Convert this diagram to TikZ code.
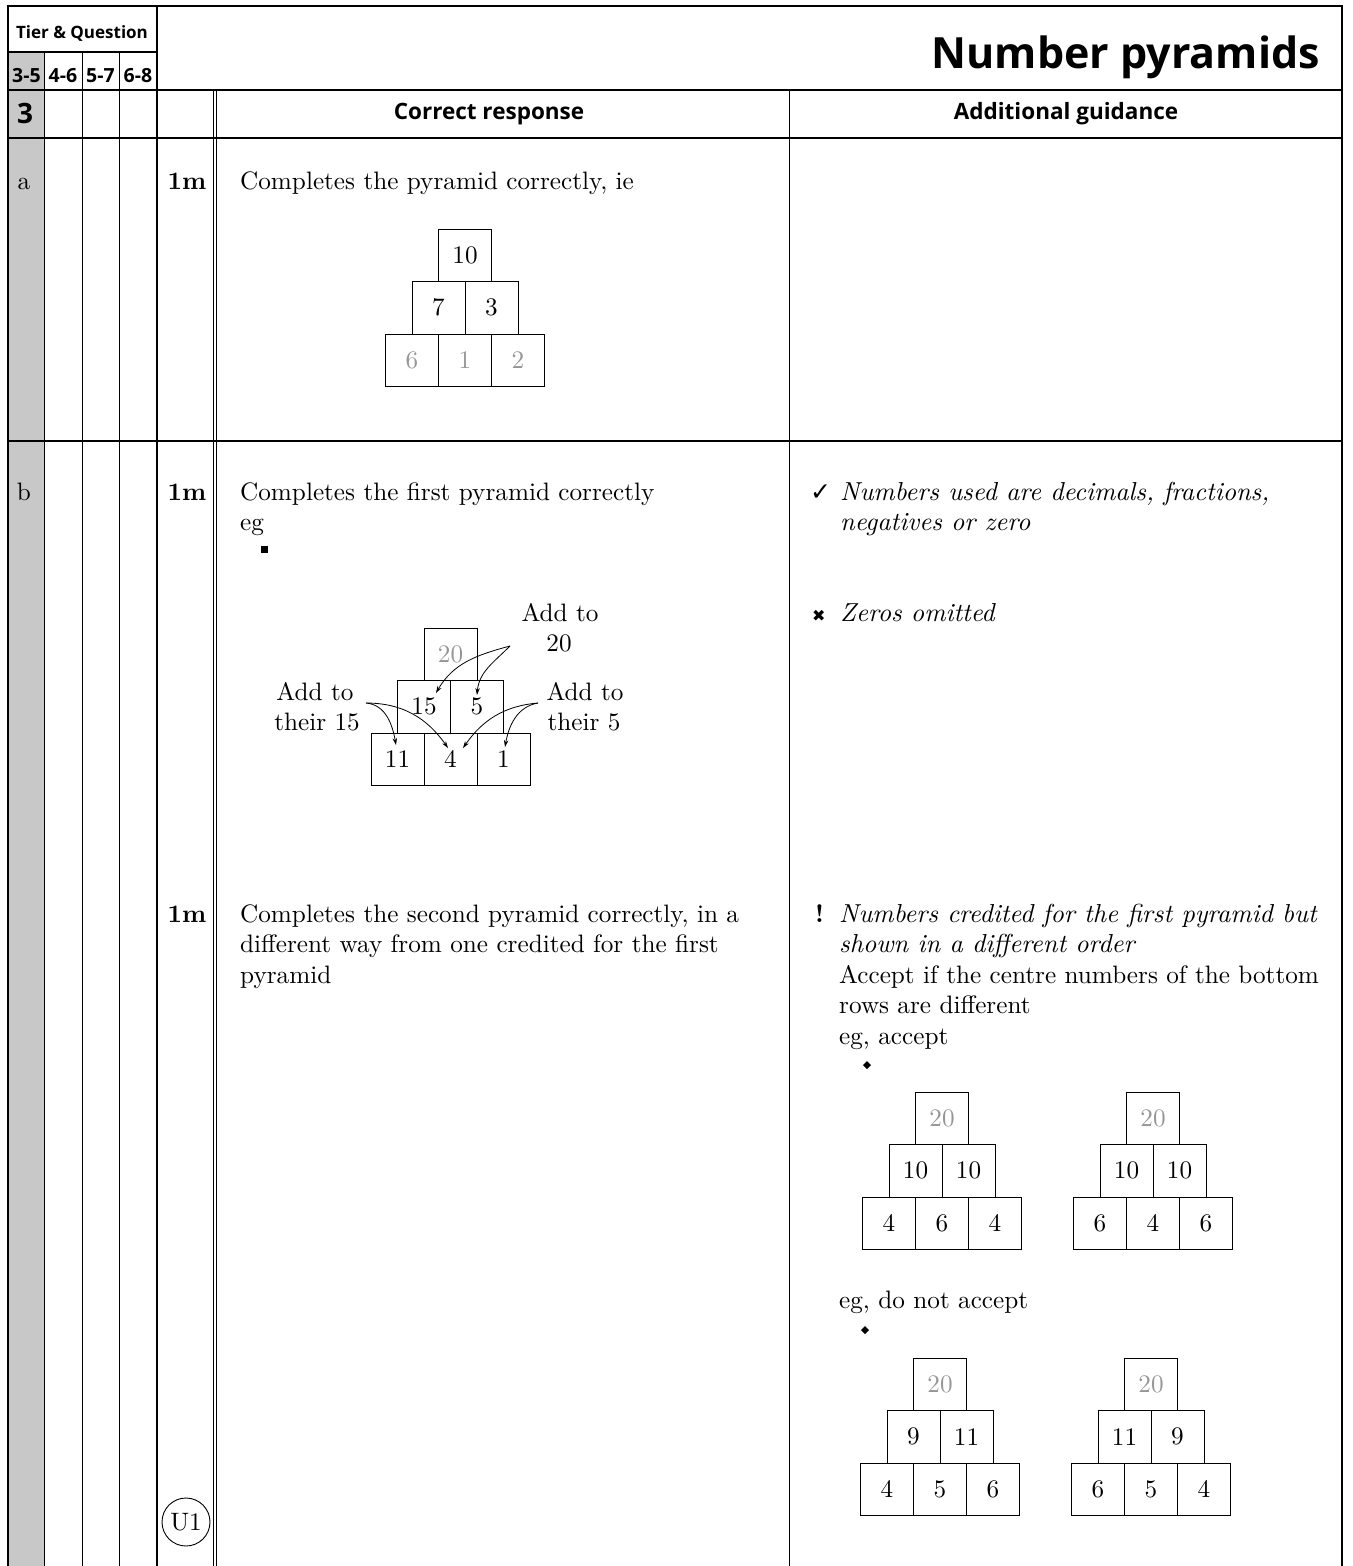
\documentclass[tikz,border=0pt]{standalone}
\usepackage{fontspec}
\setmainfont{lmroman10-regular.otf}[BoldFont=lmroman10-bold.otf, ItalicFont=lmroman10-italic.otf, BoldItalicFont=lmroman10-bolditalic.otf]
\setsansfont{Open Sans}
\newfontfamily\symfnt{DejaVu Sans}
\usetikzlibrary{arrows.meta}
\definecolor{numgray}{RGB}{150,150,150}
\definecolor{colgray}{RGB}{200,200,200}
\newcommand{\bodyfont}{\fontsize{25.2}{30.5}\selectfont}
\newcommand{\itfont}{\fontsize{26}{30.5}\selectfont\itshape}
\newcommand{\mkpyr}[9]{%
 \node[pbox] (#1T) at (#2,#3+26.25) {#4};
 \node[pbox] (#1M1) at (#2-26.5,#3+78.75) {#5};
 \node[pbox] (#1M2) at (#2+26.5,#3+78.75) {#6};
 \node[pbox] (#1B1) at (#2-53,#3+131.25) {#7};
 \node[pbox] (#1B2) at (#2,#3+131.25) {#8};
 \node[pbox] (#1B3) at (#2+53,#3+131.25) {#9};
}
\newcommand{\gn}[1]{\textcolor{numgray}{#1}}
\begin{document}
\begin{tikzpicture}[x=1pt,y=-1pt,
  pbox/.style={draw, line width=0.9pt, minimum width=53pt, minimum height=52.5pt, inner sep=0pt, font=\bodyfont},
  txt/.style={anchor=base west, inner sep=0pt, font=\bodyfont},
  itx/.style={anchor=base west, inner sep=0pt, font=\itfont},
  ctx/.style={anchor=base, inner sep=0pt, font=\bodyfont},
  mk/.style={anchor=base, inner sep=0pt, font=\bodyfont\bfseries},
  hdr/.style={anchor=base, inner sep=0pt, font=\sffamily\bfseries\fontsize{22.5}{27}\selectfont},
  thick line/.style={line width=2.8pt},
  thin line/.style={line width=1.1pt},
  arr/.style={-{Stealth[length=7pt,width=4.5pt]}, line width=0.8pt}]
\useasboundingbox (0,0) rectangle (1352,1566);
% grey column
\fill[colgray] (8,52) rectangle (44,1566);
% lines
\draw[thin line] (8,52) -- (157,52);
\draw[thin line] (8,90) -- (1342,90);
\draw[line width=1.6pt] (8,441) -- (1342,441);
\foreach \xx in {44,82,119} \draw[line width=1pt] (\xx,52) -- (\xx,1566);
\draw[line width=0.9pt] (213,90) -- (213,1566);
\draw[line width=0.9pt] (216.5,90) -- (216.5,1566);
\draw[line width=1pt] (789,90) -- (789,1566);
\draw[line width=2.5pt] (8,138) -- (1342,138);
\draw[line width=2.6pt] (157,6) -- (157,1566);
\draw[thick line] (8,1566) -- (8,6) -- (1342,6) -- (1342,1566);
% header
\node[anchor=base east, inner sep=0pt, font=\sffamily\bfseries\fontsize{43}{50}\selectfont] (title) at (1320,68) {Number pyramids};
\node[anchor=base, inner sep=0pt, font=\sffamily\bfseries\fontsize{17}{20}\selectfont] (tierq) at (82,38) {Tier \& Question};
\node[anchor=base, inner sep=0pt, font=\sffamily\bfseries\fontsize{19.5}{24}\selectfont] (t35) at (26.5,82) {3-5};
\node[anchor=base, inner sep=0pt, font=\sffamily\bfseries\fontsize{19.5}{24}\selectfont] (t46) at (63,82) {4-6};
\node[anchor=base, inner sep=0pt, font=\sffamily\bfseries\fontsize{19.5}{24}\selectfont] (t57) at (100.5,82) {5-7};
\node[anchor=base, inner sep=0pt, font=\sffamily\bfseries\fontsize{19.5}{24}\selectfont] (t68) at (138,82) {6-8};
\node[anchor=base, inner sep=0pt, font=\sffamily\bfseries\fontsize{28}{32}\selectfont] (qnum) at (25,123) {3};
\node[hdr] (hcr) at (489,119) {Correct response};
\node[hdr] (hag) at (1066,119) {Additional guidance};
% part labels and marks
\node[ctx] (pa) at (24,189) {a};
\node[ctx] (pb) at (24,500) {b};
\node[mk] (m1) at (187,189) {1m};
\node[mk] (m2) at (187,500) {1m};
\node[mk] (m3) at (187,922) {1m};
\node[draw, circle, line width=0.9pt, minimum size=48pt, inner sep=0pt, font=\bodyfont] (u1) at (186,1522) {U1};
% row a
\node[txt] (ra) at (240,189) {Completes the pyramid correctly, ie};
\mkpyr{pa}{465}{229}{10}{7}{3}{\gn{6}}{\gn{1}}{\gn{2}}
% row b
\node[txt] (rb1) at (240,500) {Completes the first pyramid correctly};
\node[txt] (rb2) at (240,530) {eg};
\fill (260.5,545.5) rectangle (267.5,552.5);
\mkpyr{pb}{450.5}{628}{\gn{20}}{15}{5}{11}{4}{1}
\node[ctx] (l20a) at (560,621) {Add to};
\node[ctx] (l20b) at (559,651) {20};
\node[ctx] (lLa) at (315,700) {Add to};
\node[ctx] (lLb) at (317,730) {their 15};
\node[ctx] (lRa) at (585,700) {Add to};
\node[ctx] (lRb) at (584,730) {their 5};
\coordinate (o20) at (510,646);
\coordinate (tip15) at (436,693);
\coordinate (tip5) at (477,695);
\coordinate (oL) at (366,703);
\coordinate (tip11) at (396,745);
\coordinate (tip4a) at (448,748);
\coordinate (oR) at (538,703);
\coordinate (tip4b) at (463,748);
\coordinate (tip1) at (505,747);
\draw[arr] (o20) to[out=195,in=60] (tip15);
\draw[arr] (o20) to[out=225,in=85] (tip5);
\draw[arr] (oL) to[out=-5,in=100] (tip11);
\draw[arr] (oL) to[out=0,in=125] (tip4a);
\draw[arr] (oR) to[out=185,in=55] (tip4b);
\draw[arr] (oR) to[out=190,in=80] (tip1);
\node[txt] (rc1) at (240,922) {Completes the second pyramid correctly, in a};
\node[txt] (rc2) at (240,952.5) {different way from one credited for the first};
\node[txt] (rc3) at (240,983) {pyramid};
% guidance
\node[anchor=base west, inner sep=0pt, font=\symfnt\fontsize{25}{26}\selectfont] (tick) at (810,500) {✓};
\node[itx] (g1) at (840,500) {Numbers used are decimals, fractions,};
\node[itx] (g2) at (840,530) {negatives or zero};
\node[anchor=base west, inner sep=0pt, font=\symfnt\fontsize{16}{18}\selectfont] (cross) at (812,621) {✖};
\node[itx] (g3) at (840,621) {Zeros omitted};
\node[anchor=base west, inner sep=0pt, font=\bodyfont\bfseries] (excl) at (815,922) {!};
\node[itx] (g4) at (839,922) {Numbers credited for the first pyramid but};
\node[itx] (g5) at (839,952.5) {shown in a different order};
\node[txt] (g6) at (839,983) {Accept if the centre numbers of the bottom};
\node[txt] (g7) at (839,1013.5) {rows are different};
\node[txt] (g8) at (839,1044) {eg, accept};
\fill (863,1065) -- (867,1061) -- (871,1065) -- (867,1069) -- cycle;
\mkpyr{pc}{942}{1092}{\gn{20}}{10}{10}{4}{6}{4}
\mkpyr{pd}{1153}{1092}{\gn{20}}{10}{10}{6}{4}{6}
\node[txt] (g9) at (839,1308) {eg, do not accept};
\fill (861,1330) -- (865,1326) -- (869,1330) -- (865,1334) -- cycle;
\mkpyr{pe}{940}{1358}{\gn{20}}{9}{11}{4}{5}{6}
\mkpyr{pf}{1151}{1358}{\gn{20}}{11}{9}{6}{5}{4}
\end{tikzpicture}
\end{document}
